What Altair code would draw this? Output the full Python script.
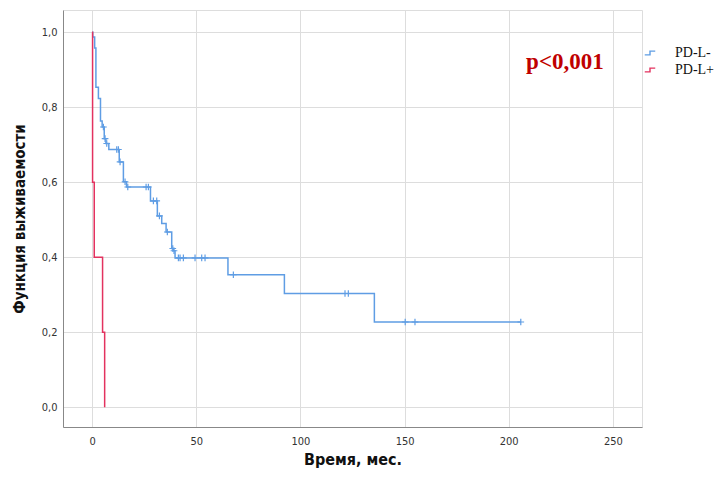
import altair as alt
import pandas as pd

# PD-L- (blue) Kaplan-Meier steps
neg_times = [0, 0.3, 1.2, 1.8, 3.0, 4.0, 4.8, 5.8, 6.6, 8.0, 13.0, 15.0, 16.5, 28.0,
             31.3, 33.4, 35.5, 38.2, 39.0, 39.8, 65.2, 92.3, 135.5, 205.8]
neg_surv = [1.0, 0.987, 0.958, 0.853, 0.823, 0.763, 0.747, 0.716, 0.703, 0.687, 0.654,
            0.601, 0.587, 0.550, 0.510, 0.490, 0.467, 0.423, 0.417, 0.398, 0.353,
            0.303, 0.227, 0.227]
# PD-L- censored observations
neg_cens_t = [5.4, 6.2, 7.0, 11.8, 12.6, 13.4, 15.8, 17.1, 25.9, 27.0, 29.4, 31.0, 32.3,
              36.1, 38.7, 39.3, 41.4, 42.2, 43.8, 49.4, 52.6, 54.2, 67.8, 121.4, 123.0,
              150.3, 155.0, 205.8]
neg_cens_s = [0.747, 0.716, 0.703, 0.687, 0.687, 0.654, 0.601, 0.587, 0.587, 0.587,
              0.550, 0.550, 0.510, 0.467, 0.423, 0.417, 0.398, 0.398, 0.398, 0.398,
              0.398, 0.398, 0.353, 0.303, 0.303, 0.227, 0.227, 0.227]

# PD-L+ (red) steps
pos_times = [0, 0.2, 1.0, 5.0, 6.0]
pos_surv = [1.0, 0.6, 0.4, 0.2, 0.0]

groups = ["PD-L-", "PD-L+"]
colors = ["#5f9de4", "#e3325f"]

x_ticks = [0, 50, 100, 150, 200, 250]
y_ticks = [0.0, 0.2, 0.4, 0.6, 0.8, 1.0]

lines = pd.DataFrame({
    "group": [groups[0]] * len(neg_times) + [groups[1]] * len(pos_times),
    "time": neg_times + pos_times,
    "surv": neg_surv + pos_surv,
})
cens = pd.DataFrame({
    "group": [groups[0]] * len(neg_cens_t),
    "time": neg_cens_t,
    "surv": neg_cens_s,
})
ann = pd.DataFrame({"time": [227], "surv": [0.92], "label": ["p<0,001"]})

AX_FONT = "DejaVu Sans Condensed, DejaVu Sans"

x = alt.X("time:Q", scale=alt.Scale(domain=[-14, 264], nice=False, zero=False),
          axis=alt.Axis(values=x_ticks, title="Время, мес.", grid=True, ticks=False,
                        labelPadding=8, titlePadding=5, labelFontSize=11,
                        labelFont=AX_FONT, labelColor="#333",
                        titleFont=AX_FONT, titleFontSize=16, titleFontWeight="bold",
                        titleColor="#111"))
y = alt.Y("surv:Q", scale=alt.Scale(domain=[-0.053, 1.059], nice=False, zero=False),
          axis=alt.Axis(values=y_ticks, title="Функция выживаемости", grid=True,
                        ticks=False, labelPadding=6, titlePadding=14,
                        labelExpr="replace(format(datum.value, '.1f'), '.', ',')",
                        labelFontSize=11, labelFont=AX_FONT, labelColor="#333",
                        titleFont=AX_FONT, titleFontSize=15, titleFontWeight="bold",
                        titleColor="#111"))

color_scale = alt.Scale(domain=groups, range=colors)

line_layer = alt.Chart(lines).mark_line(interpolate="step-after", strokeWidth=1.5).encode(
    x=x, y=y,
    color=alt.Color("group:N", scale=color_scale,
                    legend=alt.Legend(title=None, orient="none", legendX=580, legendY=36,
                                      symbolType="M-1,0.35H0V-0.35H1",
                                      symbolSize=110, symbolStrokeWidth=1.4,
                                      labelFont="Liberation Serif", labelFontSize=14,
                                      labelColor="#111", labelOffset=18,
                                      rowPadding=3)),
    detail="group:N",
)

cens_layer = alt.Chart(cens).mark_point(shape="M0,-1V1M-1,0H1", filled=False,
                                        size=45, strokeWidth=1.2, opacity=1).encode(
    x="time:Q", y="surv:Q",
    color=alt.Color("group:N", scale=color_scale, legend=None),
)

text_layer = alt.Chart(ann).mark_text(font="Liberation Serif", fontSize=23,
                                      fontWeight="bold", color="#c00000").encode(
    x="time:Q", y="surv:Q", text="label:N")

chart = alt.layer(line_layer, cens_layer, text_layer).resolve_legend(
    color="independent"
).properties(
    width=579, height=417,
    autosize=alt.AutoSizeParams(type="none"),
    padding={"left": 55, "top": 2, "right": 72, "bottom": 44},
).configure_view(stroke=None).configure_axis(
    gridColor="#c8c8c8", gridWidth=1.5, domainColor="#999999", domainWidth=2,
).configure(background="white")

chart.save("out.html", embed_options={"renderer": "svg", "actions": False})
